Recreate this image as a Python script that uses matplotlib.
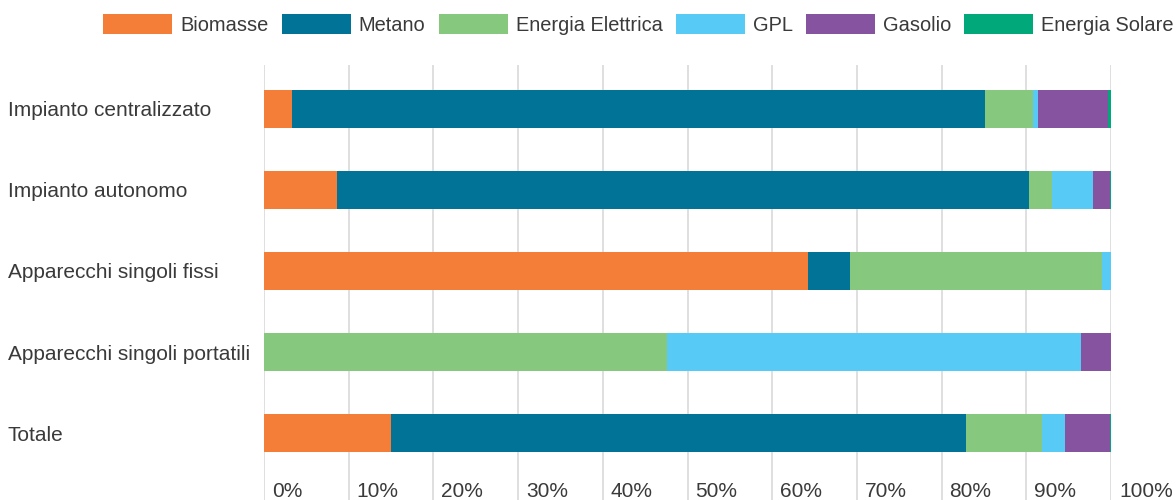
import matplotlib
matplotlib.use("Agg")
import matplotlib.pyplot as plt
import matplotlib.transforms as mtransforms
import numpy as np

plt.rcParams['font.family'] = ['Liberation Sans', 'DejaVu Sans']

# quote percentuali per tipo di impianto e combustibile
categorie = ['Impianto centralizzato', 'Impianto autonomo', 'Apparecchi singoli fissi',
             'Apparecchi singoli portatili', 'Totale']
biomasse = [3.3, 8.6, 64.25, 0.0, 15.0]
metano = [81.85, 81.75, 4.95, 0.0, 67.9]
energia_elettrica = [5.7, 2.7, 29.75, 47.6, 8.9]
gpl = [0.5, 4.85, 1.05, 48.9, 2.8]
gasolio = [8.35, 1.95, 0.0, 3.5, 5.3]
energia_solare = [0.3, 0.15, 0.0, 0.0, 0.2]

serie = ['Biomasse', 'Metano', 'Energia Elettrica', 'GPL', 'Gasolio', 'Energia Solare']
valori = [biomasse, metano, energia_elettrica, gpl, gasolio, energia_solare]
colori = ['#f47d37', '#017396', '#86c87d', '#57cbf5', '#8653a0', '#00a87a']
x_ticks = list(range(0, 101, 10))

testo = '#3a3a3a'
fs = 15
fs_leg = 14.4

fig = plt.figure(figsize=(11.76, 5.0), dpi=100)
ax = fig.add_axes([264 / 1176, 0.0, (1111 - 264) / 1176, 0.87])

y = np.arange(len(categorie))
sinistra = np.zeros(len(categorie))
for nome, vals, col in zip(serie, valori, colori):
    vals = np.array(vals)
    ax.barh(y, vals, left=sinistra, height=0.47, color=col, label=nome, zorder=3)
    sinistra += vals

ax.set_xlim(0, 100)
ax.set_ylim(4.827, -0.543)

# griglia verticale
ax.set_xticks(x_ticks)
ax.set_xticklabels([f'{t}%' for t in x_ticks])
ax.grid(axis='x', color='#dcdcdc', linewidth=1.3, zorder=0)
ax.tick_params(axis='x', length=0, pad=-13, labelsize=fs, labelcolor=testo)
offset = mtransforms.ScaledTranslation(8 / 100, 0, fig.dpi_scale_trans)
for lab in ax.get_xticklabels():
    lab.set_horizontalalignment('left')
    lab.set_transform(lab.get_transform() + offset)

# etichette categorie allineate a sinistra
ax.set_yticks(y)
ax.set_yticklabels(categorie)
ax.tick_params(axis='y', length=0, pad=(264 - 8) * 0.72, labelsize=fs, labelcolor=testo)
for lab in ax.get_yticklabels():
    lab.set_horizontalalignment('left')

for s in ax.spines.values():
    s.set_visible(False)

fig.legend(loc='upper center', bbox_to_anchor=(0.543, 1.0), ncol=6, frameon=False,
           fontsize=fs_leg, labelcolor=testo, handlelength=3.45, handleheight=1.15,
           handletextpad=0.4, columnspacing=0.66, borderaxespad=0.3)

fig.savefig('out.png', dpi=100)
